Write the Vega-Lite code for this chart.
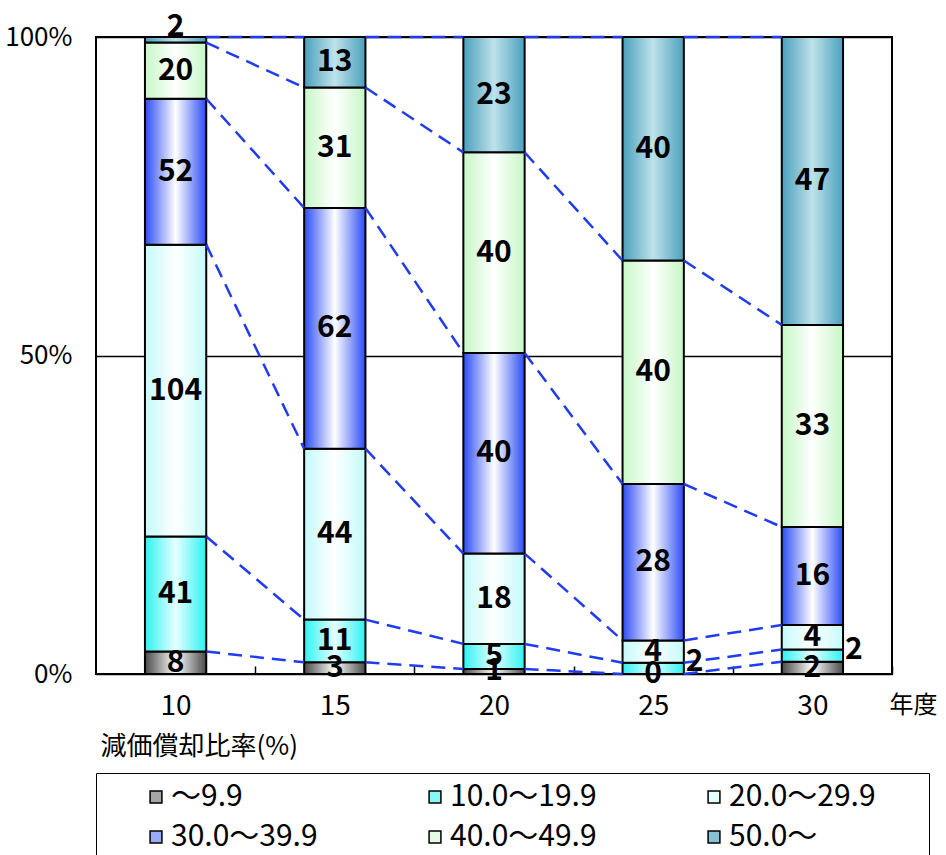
{
  "$schema": "https://vega.github.io/schema/vega-lite/v6.json",
  "width": 796,
  "height": 637,
  "autosize": {"type": "none"},
  "padding": {"left": 96, "top": 37, "right": 54, "bottom": 181},
  "background": "white",
  "config": {
    "view": {"stroke": "black", "strokeWidth": 2},
    "font": "Noto Sans CJK JP"
  },
  "data": {
    "values": [
      {"year": "10", "cat": "～9.9", "rank": 1, "n": 8},
      {"year": "10", "cat": "10.0～19.9", "rank": 2, "n": 41},
      {"year": "10", "cat": "20.0～29.9", "rank": 3, "n": 104},
      {"year": "10", "cat": "30.0～39.9", "rank": 4, "n": 52},
      {"year": "10", "cat": "40.0～49.9", "rank": 5, "n": 20},
      {"year": "10", "cat": "50.0～", "rank": 6, "n": 2},
      {"year": "15", "cat": "～9.9", "rank": 1, "n": 3},
      {"year": "15", "cat": "10.0～19.9", "rank": 2, "n": 11},
      {"year": "15", "cat": "20.0～29.9", "rank": 3, "n": 44},
      {"year": "15", "cat": "30.0～39.9", "rank": 4, "n": 62},
      {"year": "15", "cat": "40.0～49.9", "rank": 5, "n": 31},
      {"year": "15", "cat": "50.0～", "rank": 6, "n": 13},
      {"year": "20", "cat": "～9.9", "rank": 1, "n": 1},
      {"year": "20", "cat": "10.0～19.9", "rank": 2, "n": 5},
      {"year": "20", "cat": "20.0～29.9", "rank": 3, "n": 18},
      {"year": "20", "cat": "30.0～39.9", "rank": 4, "n": 40},
      {"year": "20", "cat": "40.0～49.9", "rank": 5, "n": 40},
      {"year": "20", "cat": "50.0～", "rank": 6, "n": 23},
      {"year": "25", "cat": "～9.9", "rank": 1, "n": 0},
      {"year": "25", "cat": "10.0～19.9", "rank": 2, "n": 2},
      {"year": "25", "cat": "20.0～29.9", "rank": 3, "n": 4},
      {"year": "25", "cat": "30.0～39.9", "rank": 4, "n": 28},
      {"year": "25", "cat": "40.0～49.9", "rank": 5, "n": 40},
      {"year": "25", "cat": "50.0～", "rank": 6, "n": 40},
      {"year": "30", "cat": "～9.9", "rank": 1, "n": 2},
      {"year": "30", "cat": "10.0～19.9", "rank": 2, "n": 2},
      {"year": "30", "cat": "20.0～29.9", "rank": 3, "n": 4},
      {"year": "30", "cat": "30.0～39.9", "rank": 4, "n": 16},
      {"year": "30", "cat": "40.0～49.9", "rank": 5, "n": 33},
      {"year": "30", "cat": "50.0～", "rank": 6, "n": 47}
    ]
  },
  "transform": [
    {"stack": "n", "groupby": ["year"], "sort": [{"field": "rank", "order": "ascending"}], "offset": "normalize", "as": ["y0", "y1"]},
    {"calculate": "(datum.y0 + datum.y1) / 2", "as": "ym"},
    {"calculate": "datum.y1 - datum.y0", "as": "share"}
  ],
  "layer": [
    {
      "mark": {"type": "bar", "stroke": "black", "strokeWidth": 2},
      "encoding": {
        "x": {
          "field": "year",
          "type": "nominal",
          "sort": ["10", "15", "20", "25", "30"],
          "scale": {"paddingInner": 0.615, "paddingOuter": 0.3075},
          "axis": {
            "title": "年度",
            "titleFont": "Noto Sans CJK JP",
            "titleFontSize": 24,
            "titleFontWeight": "normal",
            "titleColor": "black",
            "titleX": 793,
            "titleY": 31,
            "titleAlign": "left",
            "titleBaseline": "middle",
            "labelAngle": 0,
            "labelFontSize": 28,
            "labelColor": "black",
            "labelPadding": 26,
            "domain": false,
            "tickOffset": 79.6,
            "labelOffset": -79.6,
            "tickSize": -8,
            "tickColor": "black",
            "tickWidth": 1.5
          }
        },
        "y": {
          "field": "y0",
          "type": "quantitative",
          "scale": {"domain": [0, 1], "nice": false},
          "axis": {
            "title": "減価償却比率(%)",
            "titleFont": "Noto Sans CJK JP",
            "titleFontSize": 26,
            "titleFontWeight": "normal",
            "titleColor": "black",
            "titleAngle": 0,
            "titleX": 4,
            "titleY": 709,
            "titleAlign": "left",
            "titleBaseline": "middle",
            "values": [0, 0.5, 1],
            "format": "%",
            "grid": true,
            "gridColor": "black",
            "gridWidth": 1.5,
            "gridOpacity": 1,
            "ticks": false,
            "domain": false,
            "labelFontSize": 26,
            "labelColor": "black",
            "labelPadding": 24
          }
        },
        "y2": {"field": "y1"},
        "fill": {
          "field": "cat",
          "type": "nominal",
          "scale": {
            "domain": ["～9.9", "10.0～19.9", "20.0～29.9", "30.0～39.9", "40.0～49.9", "50.0～"],
            "range": ["#a6a6a6", "#86f8f8", "#e4fdfd", "#9aaaf8", "#e4fbe4", "#86c2d4"]
          },
          "condition": [
            {"test": "datum.rank == 1", "value": {"gradient": "linear", "x1": 0, "y1": 0, "x2": 1, "y2": 0, "stops": [{"offset": 0, "color": "#4a4a4a"}, {"offset": 0.5, "color": "#ffffff"}, {"offset": 1, "color": "#4a4a4a"}]}},
            {"test": "datum.rank == 2", "value": {"gradient": "linear", "x1": 0, "y1": 0, "x2": 1, "y2": 0, "stops": [{"offset": 0, "color": "#2ef2f2"}, {"offset": 0.5, "color": "#e6ffff"}, {"offset": 1, "color": "#2ef2f2"}]}},
            {"test": "datum.rank == 3", "value": {"gradient": "linear", "x1": 0, "y1": 0, "x2": 1, "y2": 0, "stops": [{"offset": 0, "color": "#c4fafa"}, {"offset": 0.5, "color": "#ffffff"}, {"offset": 1, "color": "#c4fafa"}]}},
            {"test": "datum.rank == 4", "value": {"gradient": "linear", "x1": 0, "y1": 0, "x2": 1, "y2": 0, "stops": [{"offset": 0, "color": "#2c4cf4"}, {"offset": 0.5, "color": "#ffffff"}, {"offset": 1, "color": "#2c4cf4"}]}},
            {"test": "datum.rank == 5", "value": {"gradient": "linear", "x1": 0, "y1": 0, "x2": 1, "y2": 0, "stops": [{"offset": 0, "color": "#c6f7c6"}, {"offset": 0.5, "color": "#ffffff"}, {"offset": 1, "color": "#c6f7c6"}]}},
            {"test": "datum.rank == 6", "value": {"gradient": "linear", "x1": 0, "y1": 0, "x2": 1, "y2": 0, "stops": [{"offset": 0, "color": "#4aa0bd"}, {"offset": 0.5, "color": "#bfe2ea"}, {"offset": 1, "color": "#4aa0bd"}]}}
          ],
          "legend": {
            "orient": "none",
            "legendX": 0,
            "legendY": 736,
            "direction": "horizontal",
            "columns": 3,
            "title": "\u3000",
            "titleOrient": "right",
            "titleFontSize": 11,
            "titlePadding": 44,
            "padding": 9,
            "strokeColor": "black",
            "fillColor": "white",
            "symbolType": "square",
            "symbolSize": 140,
            "symbolStrokeColor": "black",
            "symbolStrokeWidth": 1.5,
            "symbolOffset": 36,
            "labelOffset": 0,
            "labelFont": "Noto Sans CJK JP",
            "labelFontSize": 30,
            "labelColor": "black",
            "labelLimit": 300,
            "columnPadding": 66,
            "rowPadding": 10,
            "labelExpr": "datum.value == '～9.9' ? '\u3000\u3000\u2002' + datum.value : datum.value"
          }
        }
      }
    },
    {
      "transform": [
        {"window": [{"op": "lead", "field": "year", "as": "nyear"}, {"op": "lead", "field": "y1", "as": "ny1"}], "groupby": ["cat"], "sort": [{"field": "year", "order": "ascending"}]},
        {"filter": "datum.nyear != null"}
      ],
      "mark": {"type": "rule", "color": "#1f3cf0", "strokeWidth": 2.5, "strokeDash": [14, 8]},
      "encoding": {
        "x": {"field": "year", "type": "nominal", "bandPosition": 1},
        "x2": {"field": "nyear", "bandPosition": 0},
        "y": {"field": "y1", "type": "quantitative"},
        "y2": {"field": "ny1"}
      }
    },
    {
      "transform": [{"filter": "!((datum.rank == 2 || datum.rank == 6) && datum.share < 0.03)"}],
      "mark": {"type": "text", "fontSize": 30, "fontWeight": "bold", "font": "Noto Sans CJK JP", "color": "black", "baseline": "middle"},
      "encoding": {
        "x": {"field": "year", "type": "nominal"},
        "y": {"field": "ym", "type": "quantitative"},
        "text": {"field": "n", "type": "quantitative"}
      }
    },
    {
      "transform": [{"filter": "datum.rank == 2 && datum.share < 0.03"}],
      "mark": {"type": "text", "fontSize": 30, "fontWeight": "bold", "font": "Noto Sans CJK JP", "color": "black", "baseline": "middle", "align": "left", "dx": 2, "dy": -6},
      "encoding": {
        "x": {"field": "year", "type": "nominal", "bandPosition": 1},
        "y": {"field": "ym", "type": "quantitative"},
        "text": {"field": "n", "type": "quantitative"}
      }
    },
    {
      "transform": [{"filter": "datum.rank == 6 && datum.share < 0.03"}],
      "mark": {"type": "text", "fontSize": 30, "fontWeight": "bold", "font": "Noto Sans CJK JP", "color": "black", "baseline": "bottom", "dy": 5},
      "encoding": {
        "x": {"field": "year", "type": "nominal"},
        "y": {"field": "y1", "type": "quantitative"},
        "text": {"field": "n", "type": "quantitative"}
      }
    }
  ]
}
